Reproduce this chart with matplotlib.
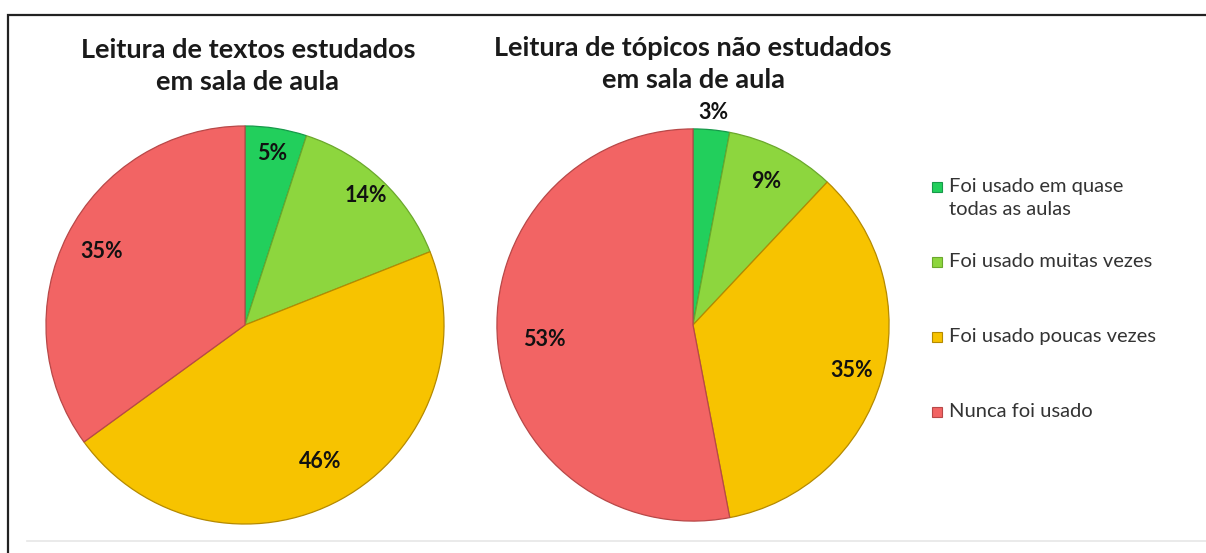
import matplotlib
matplotlib.use("Agg")
import matplotlib.pyplot as plt
import numpy as np
from matplotlib.patches import Rectangle
from matplotlib.lines import Line2D

plt.rcParams["font.family"] = ["Lato", "DejaVu Sans"]

# dados
categorias = ["Foi usado em quase\ntodas as aulas", "Foi usado muitas vezes",
              "Foi usado poucas vezes", "Nunca foi usado"]
textos_estudados = [5, 14, 46, 35]
topicos_nao_estudados = [3, 9, 35, 53]
titulos = ["Leitura de textos estudados\nem sala de aula",
           "Leitura de tópicos não estudados\nem sala de aula"]

CORES = ["#22CF5C", "#8DD63E", "#F7C300", "#F26464"]
BORDAS = ["#17994A", "#6BA82C", "#B58A00", "#B84848"]

W, H = 1206, 553
fig = plt.figure(figsize=(W / 100, H / 100), dpi=100)

# moldura e linha inferior
fig.patches.append(Rectangle((8 / W, -0.1), 1.2, (H - 15) / H + 0.1,
                             transform=fig.transFigure, fill=False,
                             edgecolor="#222222", lw=1.6))
fig.lines.append(Line2D([27 / W, 1.0], [1 - 541 / H] * 2,
                        transform=fig.transFigure, color="#E6E6E6", lw=1.2))


def pizza(cx, cy, r, valores, dist, titulo, tx, ty, fs):
    ax = fig.add_axes([(cx - r) / W, 1 - (cy + r) / H, 2 * r / W, 2 * r / H])
    wedges, _ = ax.pie(valores, colors=CORES, startangle=90, counterclock=False,
                       wedgeprops=dict(linewidth=0.9))
    for w, b in zip(wedges, BORDAS):
        w.set_edgecolor(b)
    for w, v, d in zip(wedges, valores, dist):
        ang = np.deg2rad((w.theta1 + w.theta2) / 2)
        ax.text(d * np.cos(ang), d * np.sin(ang), f"{v}%", ha="center",
                va="center", fontsize=15.5, fontweight="bold", color="#111111")
    ax.set_xlim(-1.02, 1.02)
    ax.set_ylim(-1.02, 1.02)
    ax.axis("off")
    fig.text(tx / W, 1 - ty / H, titulo, ha="center", va="top", fontsize=fs,
             fontweight="bold", color="#1a1a1a", linespacing=1.4)
    return wedges


pizza(245, 325, 203, textos_estudados, [0.87, 0.89, 0.78, 0.81],
      titulos[0], 248, 38, 19.5)
pizza(693, 325, 200, topicos_nao_estudados, [1.09, 0.82, 0.84, 0.76],
      titulos[1], 693, 36, 19.5)

# legenda
ys = [187, 262, 337, 412]
for cat, c, b, y in zip(categorias, CORES, BORDAS, ys):
    fig.patches.append(Rectangle((932 / W, 1 - (y + 5) / H), 10 / W, 10 / H,
                                 transform=fig.transFigure, facecolor=c,
                                 edgecolor=b, lw=0.8))
    fig.text(949 / W, 1 - (y - 9) / H, cat, ha="left", va="top", fontsize=14.5,
             color="#333333", linespacing=1.45)

fig.savefig("out.png", dpi=100)
